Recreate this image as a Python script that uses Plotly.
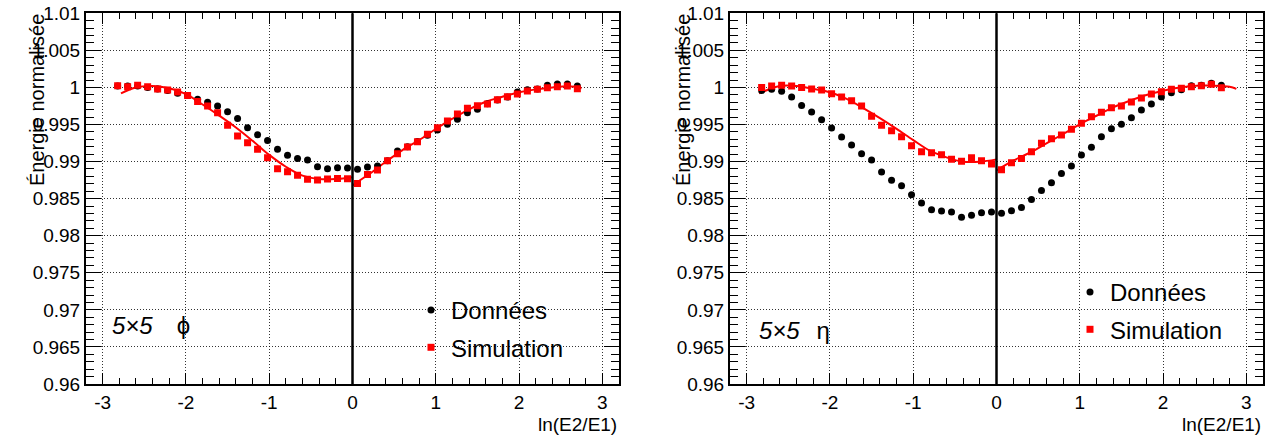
import plotly.graph_objects as go

# ---------------- data ----------------
x_bins = [-2.82, -2.70, -2.58, -2.46, -2.34, -2.22, -2.10, -1.98, -1.86, -1.74, -1.62, -1.50,
          -1.38, -1.26, -1.14, -1.02, -0.90, -0.78, -0.66, -0.54, -0.42, -0.30, -0.18, -0.06,
          0.06, 0.18, 0.30, 0.42, 0.54, 0.66, 0.78, 0.90, 1.02, 1.14, 1.26, 1.38, 1.50, 1.62,
          1.74, 1.86, 1.98, 2.10, 2.22, 2.34, 2.46, 2.58, 2.70]

phi_data = [1.0002, 1.0002, 1.0002, 1.0000, 0.9998, 0.9996, 0.9992, 0.9989, 0.9984, 0.9980, 0.9975, 0.99673,
            0.9958, 0.99457, 0.99363, 0.99286, 0.99165, 0.99084, 0.99043, 0.99021, 0.98931, 0.98904, 0.98917, 0.98913,
            0.98895, 0.98926, 0.9894, 0.9901, 0.99142, 0.9920, 0.9927, 0.99354, 0.99425, 0.99502, 0.9957, 0.99659,
            0.99705, 0.9978, 0.9983, 0.9987, 0.9994, 0.9997, 0.9998, 1.0003, 1.00046, 1.00046, 1.0002]

phi_sim = [1.00023, 1.0001, 1.0003, 1.0001, 0.9998, 0.99965, 0.9994, 0.9989, 0.9981, 0.9975, 0.9966, 0.9949,
           0.99345, 0.99255, 0.99165, 0.9905, 0.98904, 0.98863, 0.98814, 0.9876, 0.98751, 0.98764, 0.98773, 0.9877,
           0.98706, 0.98827, 0.98886, 0.99012, 0.99106, 0.99196, 0.99268, 0.99367, 0.99457, 0.99547, 0.99641, 0.99718,
           0.99753, 0.99776, 0.99834, 0.99875, 0.99911, 0.99951, 0.99974, 0.99996, 1.0001, 1.0002, 0.99983]

eta_data = [0.9996, 0.99974, 0.9995, 0.9987, 0.99758, 0.99668, 0.99564, 0.99452, 0.9933, 0.99222, 0.99106, 0.9902,
            0.98859, 0.98747, 0.98674, 0.98553, 0.9844, 0.9835, 0.98333, 0.9832, 0.98248, 0.98275, 0.9831, 0.9832,
            0.98302, 0.98338, 0.9838, 0.98488, 0.98609, 0.98715, 0.9884, 0.9894, 0.99088, 0.99192, 0.99335, 0.99443,
            0.99502, 0.99592, 0.99695, 0.99776, 0.9987, 0.99928, 0.9997, 1.00023, 1.0003, 1.00055, 1.0003]

eta_sim = [1.0000, 1.0002, 1.0003, 1.0002, 1.0000, 0.9998, 0.99965, 0.99915, 0.9987, 0.9982, 0.9975, 0.9961,
           0.9949, 0.99416, 0.99335, 0.99214, 0.99133, 0.9912, 0.99093, 0.9903, 0.99004, 0.99053, 0.99012, 0.98967,
           0.9889, 0.98985, 0.99043, 0.99133, 0.99246, 0.99308, 0.99358, 0.99435, 0.99516, 0.99605, 0.99664, 0.99726,
           0.99749, 0.99803, 0.99857, 0.99911, 0.99942, 0.99974, 0.9999, 1.0001, 1.00023, 1.00042, 0.99996]

# fitted curves, left and right branches
phi_fit_neg_x = [-2.78, -2.6, -2.4, -2.2, -2.0, -1.8, -1.6, -1.4, -1.2, -1.0, -0.8, -0.6, -0.4, -0.2, 0.0]
phi_fit_neg_y = [0.9992, 1.0000, 1.0002, 0.9999, 0.9991, 0.9977, 0.9962, 0.9946, 0.9928, 0.9909, 0.9893,
                 0.9881, 0.98765, 0.98765, 0.9879]
phi_fit_pos_x = [0.0, 0.2, 0.4, 0.6, 0.8, 1.0, 1.2, 1.4, 1.6, 1.8, 2.0, 2.2, 2.4, 2.6, 2.75]
phi_fit_pos_y = [0.9868, 0.98832, 0.98998, 0.99155, 0.9929, 0.99439, 0.99578, 0.99705, 0.99807, 0.99875,
                 0.99934, 0.99974, 1.0000, 1.00015, 0.9999]

eta_fit_neg_x = [-2.85, -2.6, -2.4, -2.2, -2.0, -1.8, -1.6, -1.4, -1.2, -1.0, -0.8, -0.6, -0.4, -0.2, 0.0]
eta_fit_neg_y = [0.9992, 1.0002, 1.0002, 0.9998, 0.99935, 0.99845, 0.9972, 0.99585, 0.9944, 0.9929, 0.99147,
                 0.99057, 0.98998, 0.98998, 0.9903]
eta_fit_pos_x = [0.0, 0.2, 0.4, 0.6, 0.8, 1.0, 1.2, 1.4, 1.6, 1.8, 2.0, 2.2, 2.4, 2.6, 2.8, 2.88]
eta_fit_pos_y = [0.9888, 0.99012, 0.9912, 0.99246, 0.99372, 0.99502, 0.99618, 0.99731, 0.9982, 0.99897,
                 0.99956, 1.0000, 1.00023, 1.00025, 1.0001, 0.9998]

y_tickvals = [0.96, 0.965, 0.97, 0.975, 0.98, 0.985, 0.99, 0.995, 1.0, 1.005, 1.01]
y_ticktext = ["0.96", "0.965", "0.97", "0.975", "0.98", "0.985", "0.99", "0.995", "1", "1.005", "1.01"]
x_tickvals = [-3, -2, -1, 0, 1, 2, 3]
x_ticktext = ["-3", "-2", "-1", "0", "1", "2", "3"]

legend_labels = ["Données", "Simulation"]
panel_labels = ["<i>5×5</i>\u2002\u2002\u03d5", "<i>5×5</i>\u2002\u2009η"]
x_title = "ln(E2/E1)"
y_title = "Énergie normalisée"

# ---------------- figure ----------------
W, H = 1274, 436
FONT = "Liberation Sans, Arial, Helvetica, sans-serif"

def px(x):
    return x / W

def py(y):
    return 1 - y / H

fig = go.Figure()

panels = [
    ("x", "y", phi_data, phi_sim, (phi_fit_neg_x, phi_fit_neg_y), (phi_fit_pos_x, phi_fit_pos_y), "legend"),
    ("x2", "y2", eta_data, eta_sim, (eta_fit_neg_x, eta_fit_neg_y), (eta_fit_pos_x, eta_fit_pos_y), "legend2"),
]

for xa, ya, dat, sim, fneg, fpos, leg in panels:
    for fx, fy in (fneg, fpos):
        fig.add_trace(go.Scatter(x=fx, y=fy, mode="lines", line=dict(color="#ff0000", width=2, shape="spline"),
                                 xaxis=xa, yaxis=ya, showlegend=False, hoverinfo="skip"))
    fig.add_trace(go.Scatter(x=x_bins, y=dat, mode="markers", name=legend_labels[0],
                             marker=dict(symbol="circle", size=7, color="black"),
                             xaxis=xa, yaxis=ya, legend=leg, legendgroup=leg + "a"))
    fig.add_trace(go.Scatter(x=x_bins, y=sim, mode="markers", name=legend_labels[1],
                             marker=dict(symbol="square", size=7, color="#ff0000"),
                             xaxis=xa, yaxis=ya, legend=leg, legendgroup=leg + "b"))

left_dom = [px(86), px(619)]
right_dom = [px(730), px(1263)]
y_dom = [py(384), py(13.3)]

GRID = dict(showgrid=True, gridcolor="rgba(0,0,0,0.8)", griddash="1px,2px", gridwidth=1)

def xaxis_cfg(dom, anchor):
    return dict(domain=dom, anchor=anchor, range=[-3.2, 3.2], automargin=False,
                tickvals=x_tickvals, ticktext=x_ticktext,
                ticks="inside", ticklen=11, tickwidth=1, tickcolor="black",
                minor=dict(ticks="inside", dtick=0.2, tick0=0, ticklen=6, tickcolor="black", showgrid=False),
                showline=True, linecolor="black", linewidth=2, mirror="allticks",
                zeroline=False, tickfont=dict(family=FONT, size=19, color="black"), **GRID)

def yaxis_cfg(anchor):
    return dict(domain=y_dom, anchor=anchor, range=[0.96, 1.01], automargin=False,
                tickvals=y_tickvals, ticktext=y_ticktext,
                ticks="inside", ticklen=15, tickwidth=1, tickcolor="black",
                minor=dict(ticks="inside", dtick=0.001, tick0=0.96, ticklen=8, tickcolor="black", showgrid=False),
                showline=True, linecolor="black", linewidth=2, mirror="allticks",
                zeroline=False, tickfont=dict(family=FONT, size=19, color="black"), **GRID)

fig.update_layout(
    width=W, height=H, autosize=False,
    margin=dict(l=0, r=0, t=0, b=0, autoexpand=False),
    paper_bgcolor="white", plot_bgcolor="white",
    font=dict(family=FONT, color="black"),
    xaxis=xaxis_cfg(left_dom, "y"),
    yaxis=yaxis_cfg("x"),
    xaxis2=xaxis_cfg(right_dom, "y2"),
    yaxis2=yaxis_cfg("x2"),
    legend=dict(x=px(411), y=py(288), xanchor="left", yanchor="top", bgcolor="rgba(0,0,0,0)",
                font=dict(family=FONT, size=24, color="black"), tracegroupgap=3, itemsizing="trace"),
    legend2=dict(x=px(1070), y=py(270), xanchor="left", yanchor="top", bgcolor="rgba(0,0,0,0)",
                 font=dict(family=FONT, size=24, color="black"), tracegroupgap=3, itemsizing="trace"),
    showlegend=True,
)

# vertical line at x = 0 in each panel
for xa, ya in (("x", "y"), ("x2", "y2")):
    fig.add_shape(type="line", xref=xa, yref=ya + " domain", x0=0, x1=0, y0=0, y1=1,
                  line=dict(color="black", width=2.5))

# axis titles & panel labels
for xc_title, xr_axis, lab_x, lab_y, lab in ((37, 619, 110, 325, panel_labels[0]),
                                             (683, 1263, 757, 330, panel_labels[1])):
    fig.add_annotation(text=y_title, xref="paper", yref="paper", x=px(xc_title), y=py(12),
                       xanchor="center", yanchor="top", textangle=-90, showarrow=False,
                       font=dict(family=FONT, size=20, color="black"))
    fig.add_annotation(text=x_title, xref="paper", yref="paper", x=px(xr_axis), y=py(424),
                       xanchor="right", yanchor="middle", showarrow=False,
                       font=dict(family=FONT, size=19, color="black"))
    fig.add_annotation(text=lab, xref="paper", yref="paper", x=px(lab_x), y=py(lab_y),
                       xanchor="left", yanchor="middle", showarrow=False,
                       font=dict(family=FONT, size=24, color="black"))

fig.write_html("out.html", config={"displayModeBar": False},
               post_script="document.documentElement.style.margin='0';document.body.style.margin='0';"
                           "document.body.style.overflow='hidden';")
